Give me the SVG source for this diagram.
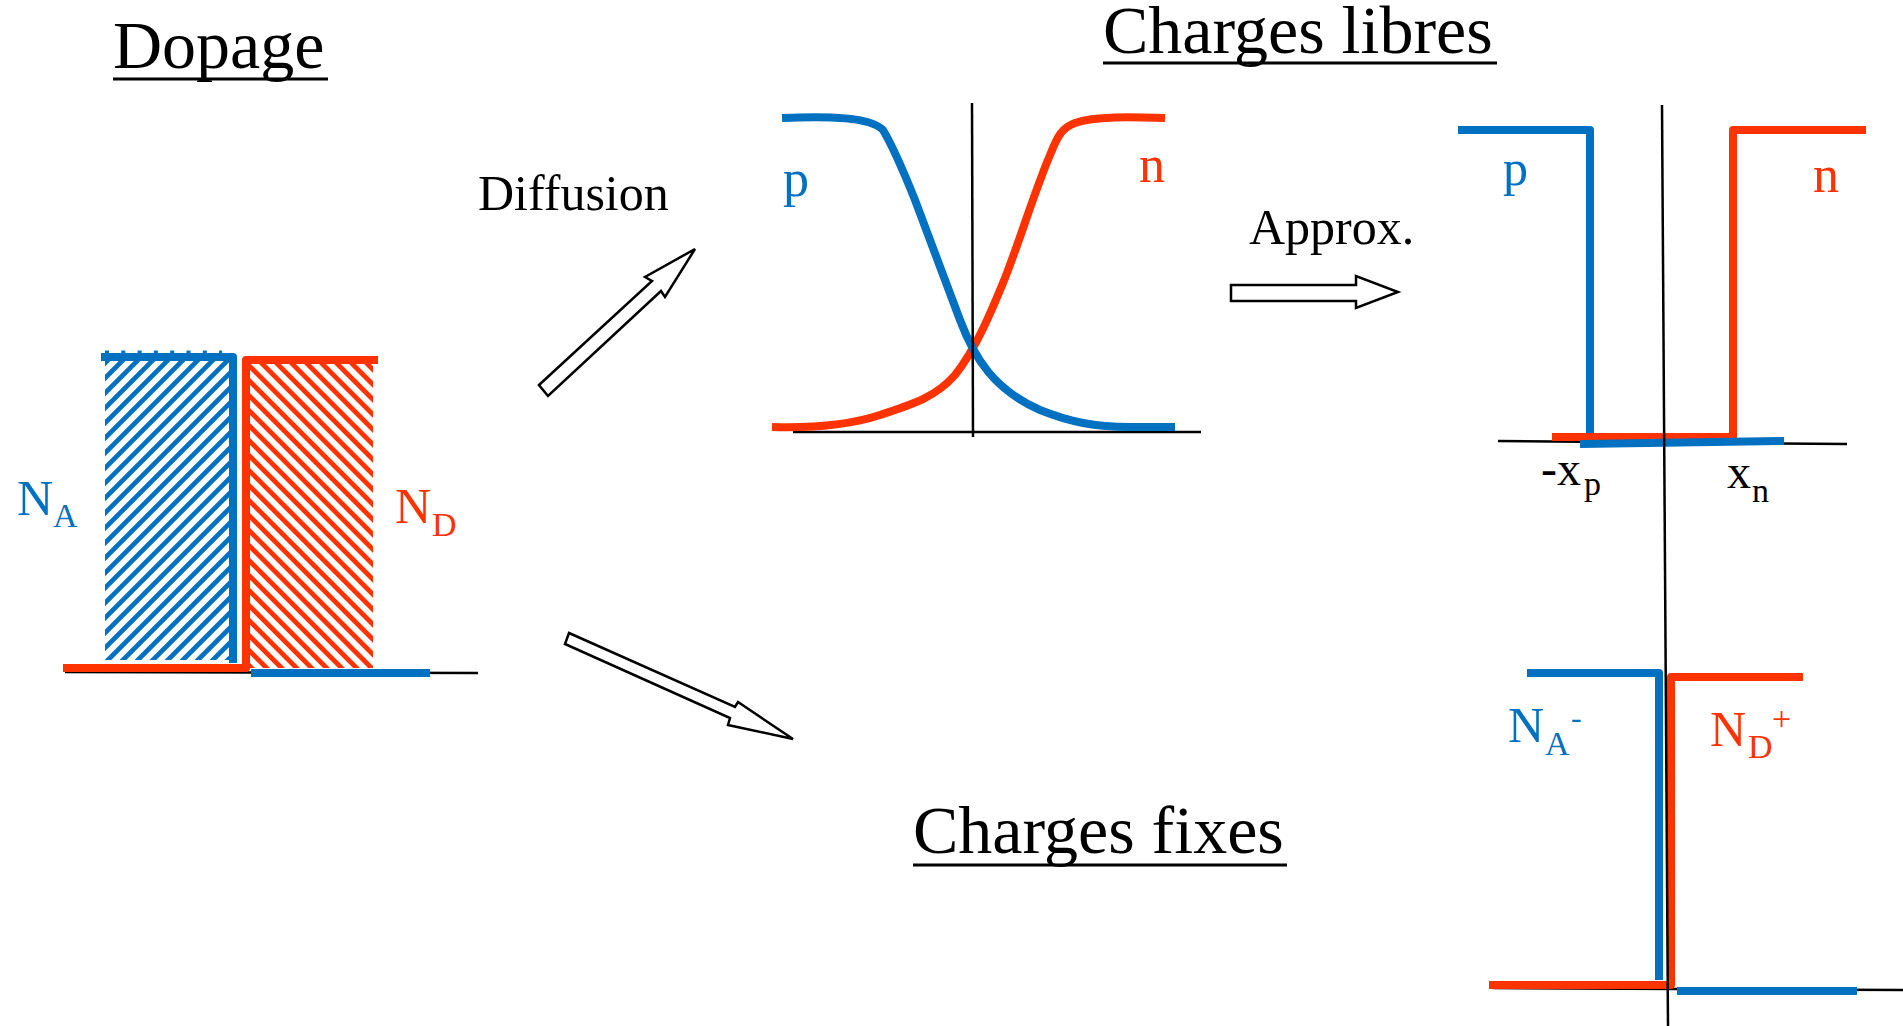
<svg xmlns="http://www.w3.org/2000/svg" width="1903" height="1026" viewBox="0 0 1903 1026">
  <style>
    text { font-family: "Liberation Serif", "Times New Roman", serif; }
    .title { font-size: 68px; fill: #000; }
    .lbl { font-size: 50px; fill: #000; }
    .blue { fill: #0070C0; }
    .red { fill: #FF3300; }
    .bl { fill: none; stroke: #0070C0; stroke-width: 8; stroke-linejoin: round; }
    .rd { fill: none; stroke: #FF3300; stroke-width: 8; stroke-linejoin: round; }
    .ax { fill: none; stroke: #000; stroke-width: 2.5; }
    .ul { stroke: #000; stroke-width: 3; }
    .arrow { fill: #fff; stroke: #000; stroke-width: 2.5; stroke-linejoin: miter; }
  </style>
  <defs>
    <pattern id="hatchBlue" patternUnits="userSpaceOnUse" width="10.6" height="10.6" patternTransform="rotate(45)">
      <rect x="0" y="0" width="4.8" height="10.6" fill="#0070C0"/>
    </pattern>
    <pattern id="hatchRed" patternUnits="userSpaceOnUse" width="10.6" height="10.6" patternTransform="rotate(-45)">
      <rect x="0" y="0" width="4.8" height="10.6" fill="#FF3300"/>
    </pattern>
  </defs>
  <rect width="1903" height="1026" fill="#fff"/>

  <!-- Titles -->
  <g id="title-dopage">
    <text class="title" x="113" y="68" font-size="69">Dopage</text>
    <line class="ul" x1="113" y1="79" x2="328" y2="79"/>
  </g>
  <g id="title-libres">
    <text class="title" x="1103" y="53">Charges libres</text>
    <line class="ul" x1="1103" y1="63" x2="1497" y2="63"/>
  </g>
  <g id="title-fixes">
    <text class="title" x="913" y="853">Charges fixes</text>
    <line class="ul" x1="913" y1="865" x2="1287" y2="865"/>
  </g>

  <!-- Dopage plot -->
  <g id="plot-dopage">
    <line class="ax" x1="65" y1="672" x2="478" y2="673" stroke-width="2"/>
    <rect x="105" y="360" width="124" height="300" fill="url(#hatchBlue)"/>
    <rect x="250" y="364" width="123" height="304" fill="url(#hatchRed)"/>
    <line x1="105" y1="352" x2="222" y2="352" stroke="#0070C0" stroke-width="3" stroke-dasharray="4 12.3"/>
    <path class="rd" d="M63,668 H246 V360 H378"/>
    <path class="bl" d="M101,357 H233 V663"/>
    <path class="bl" d="M251,673 H430"/>
    <text class="blue" font-size="50" x="17" y="515">N<tspan x="53" y="527" font-size="34">A</tspan></text>
    <text class="red" font-size="50" x="395" y="523">N<tspan x="432" y="536" font-size="34">D</tspan></text>
  </g>

  <!-- Charges libres: diffusion profile -->
  <g id="plot-diffusion">
    <line class="ax" x1="793" y1="432" x2="1201" y2="432"/>
    <path class="rd" d="M772,427 C810,428 850,425 880,415 C910,405 935,398 955,375 C975,350 990,315 1005,278 C1020,240 1035,190 1050,155 C1058,135 1062,128 1075,123 C1095,116 1130,117 1165,118"/>
    <path class="bl" d="M782,118 C830,116 870,117 883,130 C895,150 905,175 915,200 L960,320 C975,360 995,390 1040,410 C1070,422 1095,427 1130,427 L1175,427"/>
    <line class="ax" x1="972" y1="103" x2="973" y2="437"/>
    <text class="blue" font-size="52" x="783" y="196">p</text>
    <text class="red" font-size="52" x="1139" y="182">n</text>
  </g>

  <!-- Charges libres: approximation -->
  <g id="plot-approx">
    <line class="ax" x1="1498" y1="441" x2="1847" y2="444"/>
    <path class="rd" d="M1552,437 H1733 V130 H1866"/>
    <path class="bl" d="M1458,130 H1590 V433"/>
    <path class="bl" d="M1580,444 L1784,441"/>
    <text class="blue" font-size="50" x="1503" y="185">p</text>
    <text class="red" font-size="52" x="1813" y="192">n</text>
    <text font-size="48" x="1541" y="485">-x<tspan x="1584" y="495" font-size="34">p</tspan></text>
    <text font-size="48" x="1727" y="488">x<tspan x="1752" y="502" font-size="34">n</tspan></text>
  </g>

  <!-- Charges fixes -->
  <g id="plot-fixes">
    <line class="ax" x1="1493" y1="988" x2="1903" y2="990"/>
    <path class="rd" d="M1489,985 H1671 V677 H1803"/>
    <path class="bl" d="M1527,673 H1659 V980"/>
    <path class="bl" d="M1677,991 H1857"/>
    <text class="blue" font-size="50" x="1508" y="742">N<tspan x="1545" y="755" font-size="34">A</tspan><tspan x="1571" y="728" font-size="32">-</tspan></text>
    <text class="red" font-size="50" x="1710" y="746">N<tspan x="1748" y="758" font-size="34">D</tspan><tspan x="1772" y="730" font-size="34">+</tspan></text>
  </g>

  <!-- Shared vertical axis -->
  <g id="axis-vertical">
    <line class="ax" x1="1662" y1="105" x2="1668" y2="1026"/>
  </g>

  <!-- Connectors -->
  <g id="connectors">
    <polygon class="arrow" points="539,385 652,281 645,277 695,249 665,297 661,291 548,396"/>
    <text class="lbl" x="478" y="210">Diffusion</text>
    <polygon class="arrow" points="1231,285 1356,285 1356,276 1398,292 1356,308 1356,301 1231,301"/>
    <text class="lbl" x="1249" y="244">Approx.</text>
    <polygon class="arrow" points="569,633 735,707 738,702 793,739 728,725 730,718 565,644"/>
  </g>
</svg>
